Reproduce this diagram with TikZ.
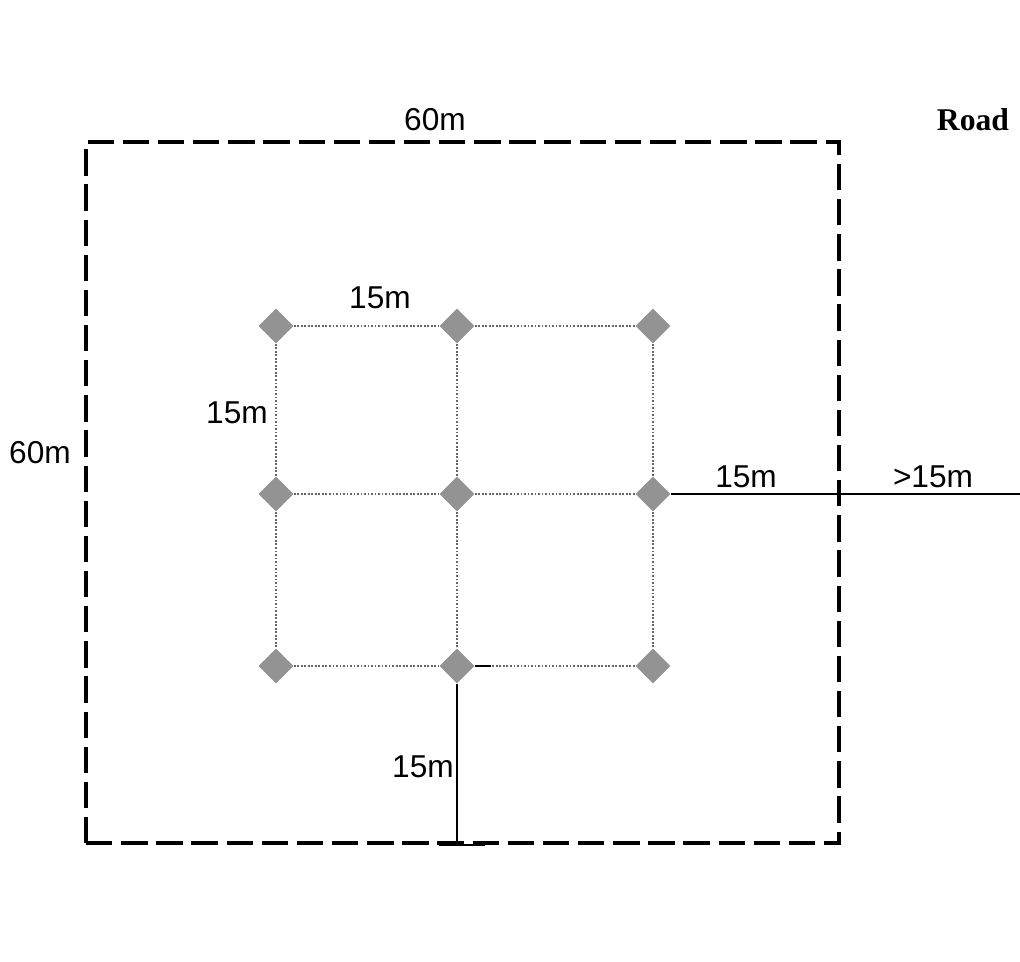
\documentclass[tikz,border=0pt]{standalone}
\usepackage{fontspec}
\setmainfont{Liberation Sans}
\newfontfamily\roadfont{Liberation Serif}
\usetikzlibrary{shapes.geometric}
\begin{document}
\begin{tikzpicture}[
		x=0.02cm, y=-0.02cm,
		plot/.style={
			draw,
			line width=2.2pt,
			dash pattern=on 15pt off 5pt,
			minimum width=15.06cm,
			minimum height=14.02cm,
			inner sep=0pt
		},
		tree/.style={
			diamond,
			fill=gray!85,
			minimum width=0.7cm,
			minimum height=0.7cm,
			inner sep=0pt
		},
		grid/.style={draw, gray!80!black, line width=1pt, densely dotted},
		line/.style={draw, line width=1.2pt},
		lbl/.style={font=\fontsize{18}{20}\selectfont, inner sep=0pt}
		]
		\useasboundingbox (0,0) rectangle (1020,961);
		
		% Plot boundary
		\node[plot] (bound) at (462.5,492.5) {};
		\node[lbl] (wtop) at (435,120) {60m};
		\node[lbl] (wleft) at (40,453) {60m};
		\node[lbl, font=\roadfont\bfseries\fontsize{18}{20}\selectfont] (road) at (973,120) {Road};
		
		% Trees
		\node[tree] (t11) at (276,326) {};
		\node[tree] (t12) at (457,326) {};
		\node[tree] (t13) at (653,326) {};
		\node[tree] (t21) at (276,494) {};
		\node[tree] (t22) at (457,494) {};
		\node[tree] (t23) at (653,494) {};
		\node[tree] (t31) at (276,666) {};
		\node[tree] (t32) at (457,666) {};
		\node[tree] (t33) at (653,666) {};
		
		% Spacing between trees
		\draw[grid] (t11) -- (t12) -- (t13);
		\draw[grid] (t21) -- (t22) -- (t23);
		\draw[grid] (t31) -- (t32) -- (t33);
		\draw[grid] (t11) -- (t21) -- (t31);
		\draw[grid] (t12) -- (t22) -- (t32);
		\draw[grid] (t13) -- (t23) -- (t33);
		\node[lbl] (dtop) at (380,298) {15m};
		\node[lbl] (dleft) at (237,413) {15m};
		
		% Distance to the road
		\coordinate (edge) at (1020,494);
		\draw[line] (t23) -- (edge);
		\node[lbl] (dright) at (746,477) {15m};
		\node[lbl] (droad) at (933,477) {>15m};
		
		% Distance to the boundary
		\coordinate (foot) at (bound.south -| t32);
		\draw[line] (t32) -- (foot);
		\draw[line] ([xshift=-10pt]foot) -- ([xshift=16pt]foot);
		\draw[line] (t32.east) -- ++(16,0);
		\node[lbl] (dbottom) at (423,767) {15m};
		
	\end{tikzpicture}
\end{document}
